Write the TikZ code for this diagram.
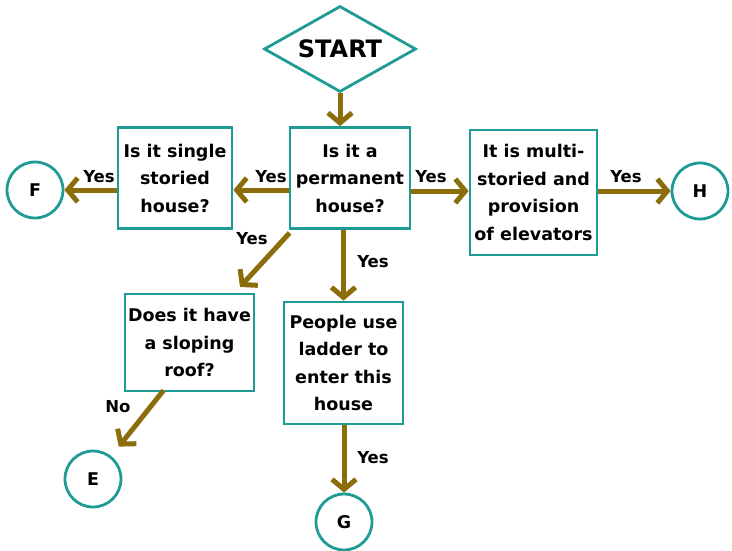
\documentclass[tikz,border=0pt]{standalone}
\usepackage{fontspec}
\setmainfont{DejaVu Sans}
\usetikzlibrary{shapes.geometric,arrows.meta}
\definecolor{boxteal}{HTML}{1F9B95}
\definecolor{arrolive}{HTML}{8C6D0B}

\begin{document}
\begin{tikzpicture}[x=1pt,y=-1pt,
		box/.style={draw=boxteal,line width=2.8pt,align=center,inner sep=0pt,font=\fontsize{17.5}{27.5}\selectfont\bfseries},
		endpt/.style={draw=boxteal,line width=2.8pt,circle,minimum size=56pt,inner sep=0pt,font=\fontsize{17.5}{20}\selectfont\bfseries},
		lbl/.style={font=\fontsize{16.5}{18}\selectfont\bfseries},
		arr/.style={draw=arrolive,line width=5pt,-{Straight Barb[length=10pt,width=24pt]}}]
				\useasboundingbox (0,0) rectangle (732,551);
				% start and the first question
				\node[diamond,draw=boxteal,line width=2.8pt,aspect=1.77,inner sep=0pt,minimum width=152pt,minimum height=86pt,font=\fontsize{24}{28}\selectfont\bfseries] (start) at (340,49) {START};
				\node[box,minimum width=120pt,minimum height=101pt] (perm) at (350,178) {Is it a\\permanent\\house?};
				\node[box,minimum width=114pt,minimum height=101pt] (single) at (175,178) {Is it single\\storied\\house?};
				\node[box,minimum width=127pt,minimum height=125pt] (multi) at (533.5,192.5) {It is multi-\\storied and\\provision\\of elevators};
				\node[box,minimum width=129pt,minimum height=97pt] (slope) at (189.5,342.5) {Does it have\\a sloping\\roof?};
				\node[box,minimum width=119pt,minimum height=122pt] (people) at (343.5,363) {People use\\ladder to\\enter this\\house};
				% end points
				\node[endpt] (F) at (35,190) {F};
				\node[endpt] (H) at (700,191) {H};
				\node[endpt] (E) at (93,479) {E};
				\node[endpt] (G) at (344,522) {G};
				\coordinate (slopetip) at (240,287);
				% connectors
				\draw[arr] (start.south) -- (start.south |- perm.north);
				\draw[arr] (perm.west |- F) -- (single.east |- F);
				\draw[arr] (single.west |- F) -- (F);
				\draw[arr] (perm.east |- H) -- (multi.west |- H);
				\draw[arr] (multi.east |- H) -- (H);
				\draw[arr] (people.north |- perm.south) -- (people.north);
				\draw[arr] ([shift={(1,3)}]perm.south west) -- (slopetip);
				\draw[arr,shorten >=12pt] ([xshift=-26pt,yshift=2pt]slope.south) -- (E);
				\draw[arr] (G.north |- people.south) -- (G.north);
				% labels
				\node[lbl] (yesF) at (99,177) {Yes};
				\node[lbl] (yesS) at (271,177) {Yes};
				\node[lbl] (yesD) at (252,239) {Yes};
				\node[lbl] (yesM) at (431,177) {Yes};
				\node[lbl] (yesH) at (626,177) {Yes};
				\node[lbl] (yesP) at (373,262) {Yes};
				\node[lbl] (yesG) at (373,458) {Yes};
				\node[lbl] (noE) at (118,407) {No};
			\end{tikzpicture}
\end{document}
